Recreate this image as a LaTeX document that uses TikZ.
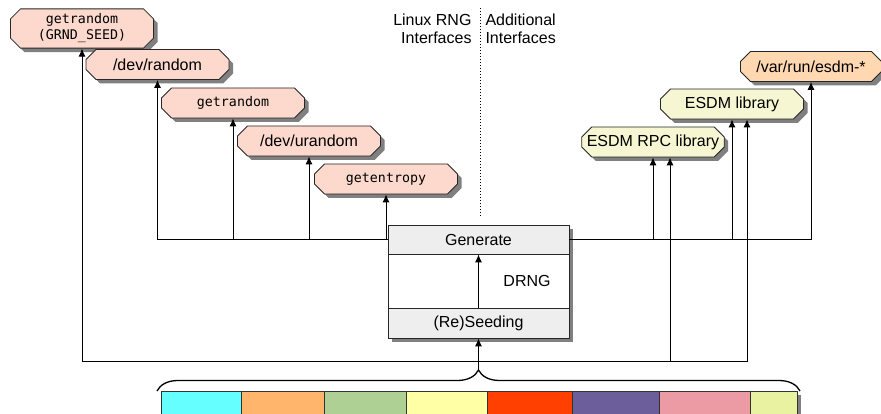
\documentclass[tikz,border=0pt]{standalone}
\usepackage{fontspec}
\setmainfont{Liberation Sans}
\setmonofont{DejaVu Sans Mono}
\usepackage{tikz}
\usetikzlibrary{shapes.misc,arrows.meta,shadows,decorations.pathreplacing}
\definecolor{linuxfill}{HTML}{FDD9CD}
\definecolor{esdmfill}{HTML}{F6F6D3}
\definecolor{varfill}{HTML}{FFD8B2}
\definecolor{hdrfill}{HTML}{EEEEEE}
\tikzstyle{iface} = [chamfered rectangle, chamfered rectangle xsep=5pt, chamfered rectangle ysep=5pt, draw=black!85, line width=0.8pt, minimum width=143pt, minimum height=30pt, inner sep=0pt, font=\fontsize{16}{18}\selectfont, drop shadow={shadow xshift=4pt, shadow yshift=-4pt, fill=black!50, opacity=1}]
\tikzstyle{linuxif} = [iface, fill=linuxfill]
\tikzstyle{esdmif} = [iface, fill=esdmfill]
\tikzstyle{varif} = [iface, fill=varfill]
\tikzstyle{mono} = [font=\fontsize{13.3}{16}\ttfamily]
\tikzstyle{section} = [draw=black!85, line width=0.8pt, fill=hdrfill, minimum width=181pt, inner sep=0pt, font=\fontsize{16}{18}\selectfont]
\tikzstyle{lbl} = [inner sep=0pt, font=\fontsize{16}{18}\selectfont]

\begin{document}
\begin{tikzpicture}[x=1pt, y=-1pt, >={Latex[length=8pt,width=7pt]}, line width=1pt]
	\useasboundingbox (0,0) rectangle (881,414);

	% LINUX RNG INTERFACES
	\node[linuxif, mono, align=center, minimum height=31pt] (grndseed) at (82,28.5) {getrandom\\(GRND\_SEED)};
	\node[linuxif] (devrandom) at (157.5,64.5) {/dev/random};
	\node[linuxif, mono] (getrand) at (233,103) {getrandom};
	\node[linuxif] (devurandom) at (309,141) {/dev/urandom};
	\node[linuxif, mono] (getentropy) at (386,179) {getentropy};

	% ADDITIONAL INTERFACES
	\node[esdmif, minimum width=142pt] (rpclib) at (653,142) {ESDM RPC library};
	\node[esdmif] (esdmlib) at (732,104) {ESDM library};
	\node[varif, minimum width=141pt] (esdmvar) at (811,66.5) {/var/run/esdm-*};

	% SEPARATOR
	\coordinate (septop) at (480,8);
	\coordinate (sepbot) at (480,217);
	\draw[dotted] (septop) -- (sepbot);
	\node[lbl, anchor=north east, align=right] (linuxlbl) at (472,13) {Linux RNG\\Interfaces};
	\node[lbl, anchor=north west, align=left] (addlbl) at (485,13) {Additional\\Interfaces};

	% DRNG
	\node[draw=black!85, line width=0.8pt, fill=white, minimum width=181pt, minimum height=113pt, drop shadow={shadow xshift=4pt, shadow yshift=-4pt, fill=black!50, opacity=1}] (drng) at (478.5,281.5) {};
	\node[section, anchor=north, minimum height=29pt] (gen) at (drng.north) {Generate};
	\node[section, anchor=south, minimum height=30pt] (reseed) at (drng.south) {(Re)Seeding};
	\node[lbl] (drnglbl) at (527,281) {DRNG};
	\draw[->] (reseed) -- (gen);

	% OUTPUT PATHS
	\draw[->] (gen.west) -| (devrandom);
	\draw[->] (gen.west) -| (getrand);
	\draw[->] (gen.west) -| (devurandom);
	\draw[->] (gen.west) -| (getentropy);
	\draw[->] (gen.east) -| (rpclib);
	\draw[->] (gen.east) -| (esdmlib);
	\draw[->] (gen.east) -| (esdmvar);

	% SEEDING PATHS
	\coordinate (bracetip) at (478.5,370);
	\coordinate (seedjoin) at (478.5,361);
	\draw[->] (bracetip) -- (reseed);
	\draw[->] (seedjoin) -| (grndseed);
	\draw[->] (seedjoin) -| ([xshift=17pt]rpclib.south);
	\draw[->] (seedjoin) -| ([xshift=15pt]esdmlib.south);

	% ENTROPY SOURCES
	\fill[black!50] (165,395) rectangle (801,420);
	\foreach \xa/\xb/\col in {161/241/66FFFF, 241/324/FFB56B, 324/406/AFD095, 406/487/FFFFA6, 487/572/FF4000, 572/659/6B5E9B, 659/750/EC9BA4, 750/797/E8F2A1}{
		\definecolor{segfill}{HTML}{\col}
		\filldraw[fill=segfill, draw=black!80, line width=0.8pt] (\xa,391) rectangle (\xb,420);
	}
	\draw[decorate, decoration={brace, amplitude=21pt}, line width=1.3pt] (157,391) -- (800,391);

\end{tikzpicture}
\end{document}
